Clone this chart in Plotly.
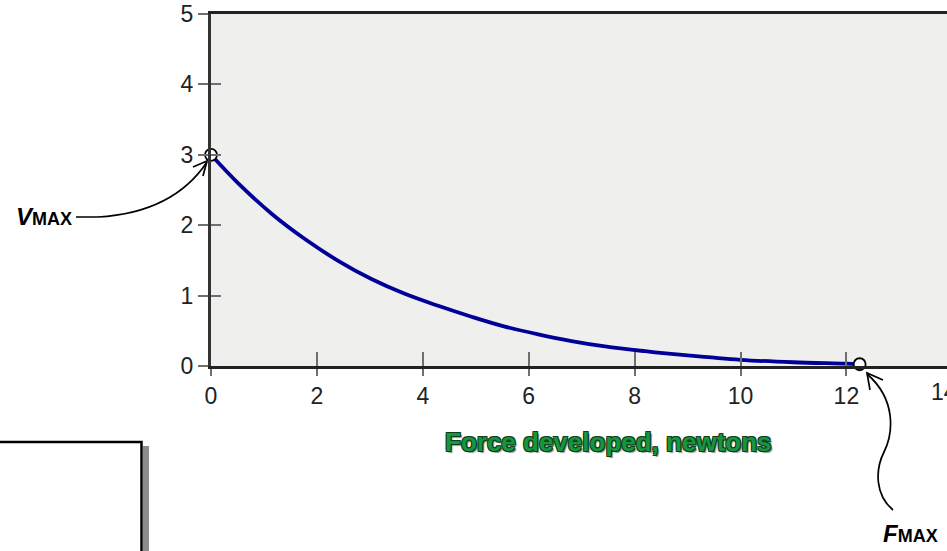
import plotly.graph_objects as go

# Force-velocity relation of a muscle: shortening velocity against force developed
force = [0, 0.52, 1.15, 1.78, 2.41, 3.03, 3.66, 4.29, 4.92, 5.55, 6.18, 6.81,
         7.44, 8.2, 9, 10, 11, 12, 12.25]
velocity = [3.0, 2.59, 2.16, 1.80, 1.49, 1.235, 1.025, 0.855, 0.70, 0.56, 0.45,
            0.355, 0.278, 0.21, 0.15, 0.088, 0.053, 0.033, 0.025]
x_ticks = [0, 2, 4, 6, 8, 10, 12]
y_ticks = [0, 1, 2, 3, 4, 5]
x_overflow_tick = "14"
x_title = "Force developed, newtons"

# Page geometry (pixels)
W, H = 947, 551
L, T = 211, 14
PW, PH = W - L, 352
BOTTOM = T + PH
X_MAX = 13.9

TICK_FONT = dict(family="Liberation Sans, Arial, sans-serif", size=23, color="#222222")
LABEL_FAMILY = "Liberation Sans, Arial, sans-serif"


def px(x):
    return (x - L) / PW


def py(y):
    return (BOTTOM - y) / PH


def path(cmds):
    out = []
    for c in cmds:
        if isinstance(c, str):
            out.append(c)
        else:
            out.append(f"{px(c[0]):.5f},{py(c[1]):.5f}")
    return " ".join(out)


fig = go.Figure()

fig.add_trace(go.Scatter(
    x=force, y=velocity, mode="lines",
    line=dict(color="#000099", width=3.8, shape="spline", smoothing=1.0),
    hoverinfo="skip", showlegend=False,
))
fig.add_trace(go.Scatter(
    x=[force[0], force[-1]], y=[velocity[0], velocity[-1]], mode="markers",
    marker=dict(color="white", size=12, line=dict(color="black", width=1.8)),
    cliponaxis=False, hoverinfo="skip", showlegend=False,
))
# carriers for the inner half of the crossing tick marks
fig.add_trace(go.Scatter(x=[], y=[], xaxis="x2", yaxis="y", showlegend=False))
fig.add_trace(go.Scatter(x=[], y=[], xaxis="x", yaxis="y2", showlegend=False))

axis_common = dict(showgrid=False, zeroline=False, fixedrange=True)

fig.update_layout(
    width=W, height=H,
    margin=dict(l=L, r=W - L - PW, t=T, b=H - BOTTOM, pad=0),
    paper_bgcolor="white",
    plot_bgcolor="#efefee",
    showlegend=False,
    xaxis=dict(
        range=[0, X_MAX], tickmode="array", tickvals=x_ticks,
        ticks="outside", ticklen=7, tickwidth=1.5, tickcolor="#6f6f6f",
        showline=True, linecolor="#222222", linewidth=3, mirror=True,
        tickfont=TICK_FONT, **axis_common,
    ),
    xaxis2=dict(
        overlaying="x", anchor="y", range=[0, X_MAX], tickmode="array",
        tickvals=x_ticks[1:], ticks="inside", ticklen=14, tickwidth=1.5,
        tickcolor="#6f6f6f", showticklabels=False, showline=False,
        **axis_common,
    ),
    yaxis=dict(
        range=[0, 5], tickmode="array", tickvals=y_ticks,
        ticks="outside", ticklen=10, tickwidth=1.5, tickcolor="#6f6f6f",
        showline=True, linecolor="#333333", linewidth=3,
        tickfont=TICK_FONT, **axis_common,
    ),
    yaxis2=dict(
        overlaying="y", anchor="x", range=[0, 5], tickmode="array",
        tickvals=y_ticks[1:-1], ticks="inside", ticklen=10, tickwidth=1.5,
        tickcolor="#6f6f6f", showticklabels=False, showline=False,
        **axis_common,
    ),
)

outline = "#0c3f1a"
title_shadow = (f"1px 1px 0 {outline}, -1px -1px 0 {outline}, 1px -1px 0 {outline}, "
                f"-1px 1px 0 {outline}, 2px 2px 1px #9a9a9a")

annotations = [
    dict(text=f"<b>{x_title}</b>", x=7.5, xref="x",
         y=py(442), yref="paper", xanchor="center", yanchor="middle",
         showarrow=False,
         font=dict(family=LABEL_FAMILY, size=26, color="#16963f", shadow=title_shadow)),
    # the 14 tick sits just past the right edge of the page
    dict(text=x_overflow_tick, x=px(944), xref="paper",
         y=py(392), yref="paper", xanchor="center", yanchor="middle",
         showarrow=False, font=TICK_FONT),
    dict(text="<b><i>V</i></b><b><span style='font-size:18px'>MAX</span></b>",
         x=px(14), xref="paper", y=py(216), yref="paper",
         xanchor="left", yanchor="middle", showarrow=False,
         font=dict(family=LABEL_FAMILY, size=24, color="black")),
    dict(text="<b><i>F</i></b><b><span style='font-size:18px'>MAX</span></b>",
         x=px(881), xref="paper", y=py(533), yref="paper",
         xanchor="left", yanchor="middle", showarrow=False,
         font=dict(family=LABEL_FAMILY, size=24, color="black")),
]

arrow_line = dict(color="black", width=1.7)
shapes = [
    # empty framed panel at lower left, with its drop shadow
    dict(type="rect", xref="paper", yref="paper",
         x0=px(143), x1=px(149), y0=py(446), y1=py(620),
         fillcolor="#8c8c8c", line=dict(width=0)),
    dict(type="rect", xref="paper", yref="paper",
         x0=px(-10), x1=px(141.5), y0=py(442), y1=py(620),
         fillcolor="white", line=dict(color="black", width=2.5)),
    # curved pointer to the maximum velocity
    dict(type="path", xref="paper", yref="paper", line=arrow_line,
         path=path(["M", (76, 217), "L", (98, 217), "C", (150, 214), (185, 195), (207, 162)])),
    dict(type="path", xref="paper", yref="paper", line=arrow_line,
         path=path(["M", (193, 167), "L", (207, 161), "L", (203, 176)])),
    # wavy pointer to the maximum force
    dict(type="path", xref="paper", yref="paper", line=arrow_line,
         path=path(["M", (893, 510), "C", (875, 495), (875, 470), (884, 452),
                    "C", (893, 434), (897, 400), (867, 374)])),
    dict(type="path", xref="paper", yref="paper", line=arrow_line,
         path=path(["M", (883, 380), "L", (867, 373), "L", (870, 390)])),
]

fig.update_layout(annotations=annotations, shapes=shapes)

fig.write_html("out.html")
